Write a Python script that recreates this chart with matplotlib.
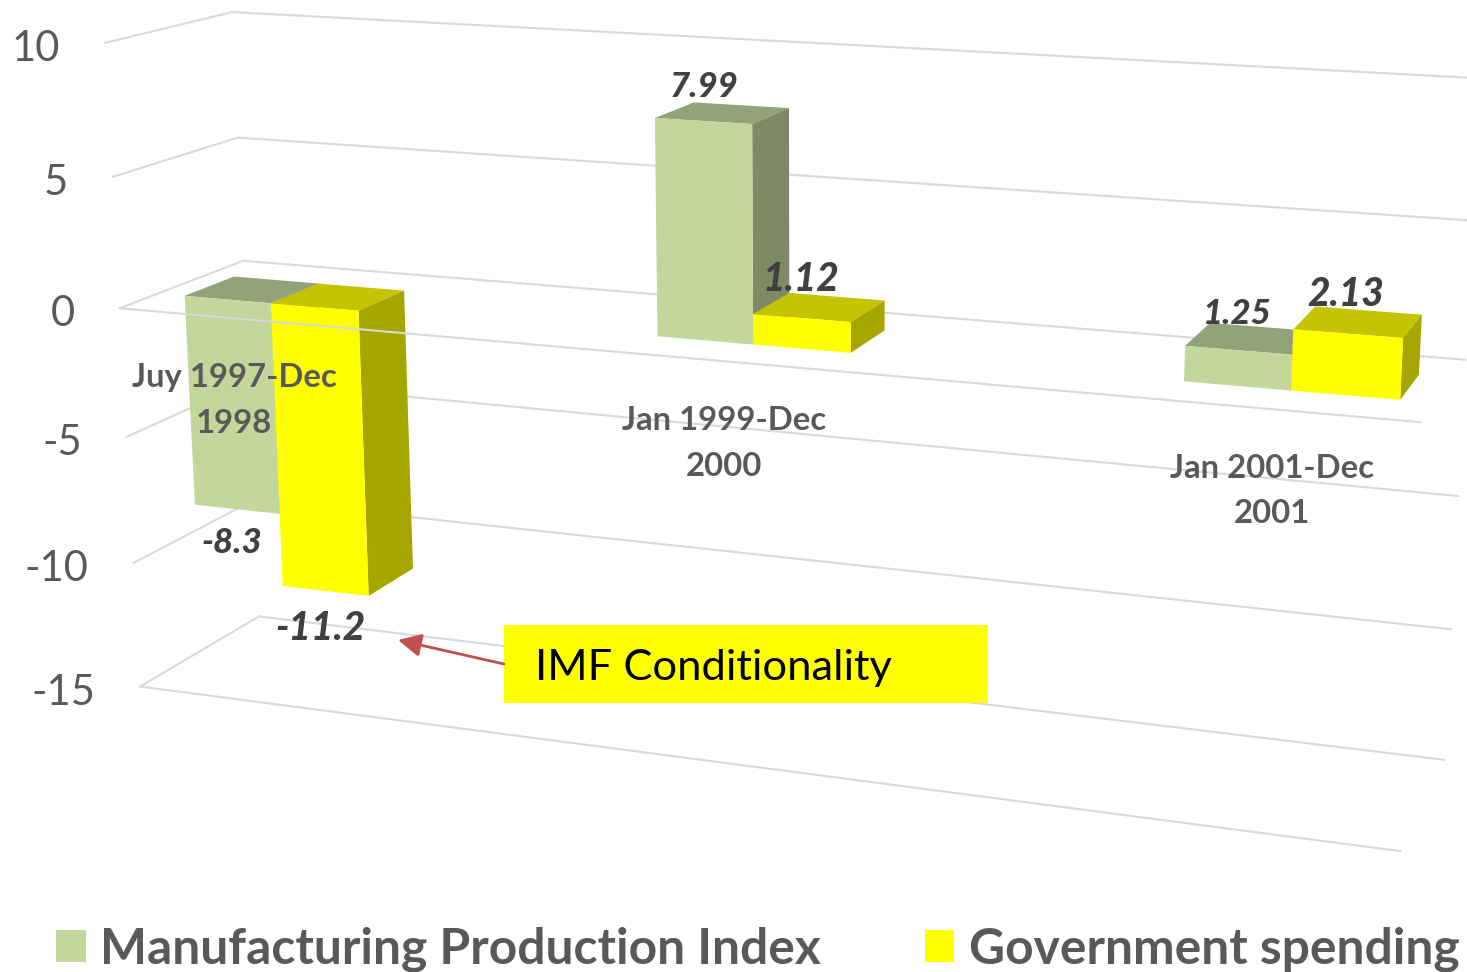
import numpy as np
import matplotlib
matplotlib.use("Agg")
import matplotlib.pyplot as plt
from matplotlib.patches import Polygon, Rectangle, Patch

# ---- data ----
categories = ["Juy 1997-Dec\n1998", "Jan 1999-Dec\n2000", "Jan 2001-Dec\n2001"]
manufacturing = [-8.3, 7.99, 1.25]
government = [-11.2, 1.12, 2.13]
series_names = ["Manufacturing Production Index", "Government spending"]
value_ticks = [10, 5, 0, -5, -10, -15]
callout = "IMF Conditionality"

# ---- style ----
GREEN = ("#C3D69B", "#93A279", "#7E8A63")
YELLOW = ("#FFFF00", "#C4C400", "#A6A600")
GRID = "#D9D9D9"
FONT = "Lato"
W, H = 1467, 972

# ---- camera: wall corners (category, depth, value) -> picture position ----
world = np.array([(0, 0, 10), (0, 1, 10), (0, 0, 0), (0, 1, 0), (0, 0, -15), (0, 1, -15),
                  (3, 0, 0), (3, 1, 0), (3, 0, -15), (3, 1, -15)], float)
image = np.array([(105, 43), (232, 12), (120, 308), (243, 261), (140, 687), (259, 616),
                  (1422, 422), (1465, 360), (1400, 851), (1445, 760)], float)
rows = []
for (a, b, c), (u, v) in zip(world, image):
    rows.append([a, b, c, 1, 0, 0, 0, 0, -u * a, -u * b, -u * c, -u])
    rows.append([0, 0, 0, 0, a, b, c, 1, -v * a, -v * b, -v * c, -v])
CAM = np.linalg.svd(np.array(rows))[2][-1].reshape(3, 4)


def project(c, d, v):
    p = CAM @ np.array([c, d, v, 1.0])
    return p[:2] / p[2]


fig = plt.figure(figsize=(W / 100, H / 100), dpi=100)
ax = fig.add_axes([0, 0, 1, 1])
ax.set_xlim(0, W)
ax.set_ylim(H, 0)
ax.axis("off")


def seg(p, q, z=1):
    ax.plot(*zip(project(*p), project(*q)), color=GRID, lw=1.5, zorder=z, solid_capstyle="round")


# walls
for v in value_ticks:
    seg((0, 0, v), (0, 1, v))
    seg((0, 1, v), (3, 1, v))
seg((0, 0, -15), (3, 0, -15))
seg((0, 0, 0), (3, 0, 0), z=6)

# bars
CENTERS = [0.30, 1.50, 2.70]
BAR_W = 0.228
D0, D1 = 0.295, 0.70


def bar(c0, c1, val, cols, z):
    lo, hi = min(0, val), max(0, val)
    f = [project(c0, D0, hi), project(c1, D0, hi), project(c1, D0, lo), project(c0, D0, lo)]
    t = [project(c0, D0, hi), project(c1, D0, hi), project(c1, D1, hi), project(c0, D1, hi)]
    s = [project(c1, D0, hi), project(c1, D1, hi), project(c1, D1, lo), project(c1, D0, lo)]
    ax.add_patch(Polygon(t, fc=cols[1], ec="none", zorder=z))
    ax.add_patch(Polygon(s, fc=cols[2], ec="none", zorder=z))
    ax.add_patch(Polygon(f, fc=cols[0], ec="none", zorder=z + 0.1))


for i, c in enumerate(CENTERS):
    bar(c - BAR_W, c, manufacturing[i], GREEN, 3 + i * 0.3)
    bar(c, c + BAR_W, government[i], YELLOW, 3.15 + i * 0.3)

# value axis labels
for v in value_ticks:
    x, y = project(0, 0, v)
    ax.text(x - 45, y + 6, str(v), ha="right", va="center", fontsize=30, color="#595959",
            family=FONT, zorder=7)

# category labels
for lab, (x, y) in zip(categories, [(234, 400.5), (724, 443.5), (1272, 491)]):
    ax.text(x, y, lab, ha="center", va="center", fontsize=23.7, fontweight="bold", color="#595959",
            family=FONT, linespacing=1.7, zorder=7)

# data labels
label_pos = [(232, 543), (704, 87), (1237, 314), (320, 628), (801, 279), (1346, 294)]
label_size = [25, 25, 25, 28, 28, 28]
for val, (x, y), fs in zip(manufacturing + government, label_pos, label_size):
    ax.text(x, y, f"{val:g}", ha="center", va="center", fontsize=fs, fontweight="black",
            style="italic", color="#404040", family=FONT, zorder=7)

# call-out
ax.add_patch(Rectangle((504, 625), 484, 78, fc="#FFFF00", ec="none", zorder=8))
ax.text(535, 668, callout, ha="left", va="center", fontsize=31.3, color="black", family=FONT, zorder=9)
ax.annotate("", xy=(398, 640), xytext=(504, 664), zorder=8,
            arrowprops=dict(arrowstyle="-|>,head_length=0.7,head_width=0.35", color="#C0504D", lw=2,
                            shrinkA=0, shrinkB=0, mutation_scale=20))

# legend
ax.legend(handles=[Patch(fc=GREEN[0], label=series_names[0]), Patch(fc=YELLOW[0], label=series_names[1])],
          ncol=2, loc="lower left", bbox_to_anchor=(56 / W, 0.0), bbox_transform=fig.transFigure,
          frameon=False, borderpad=0, borderaxespad=0,
          prop=dict(family=FONT, weight="bold", size=35.8), labelcolor="#595959",
          handlelength=0.6, handleheight=0.6, handletextpad=0.29, columnspacing=2.08)

fig.savefig("out.png", dpi=100)
